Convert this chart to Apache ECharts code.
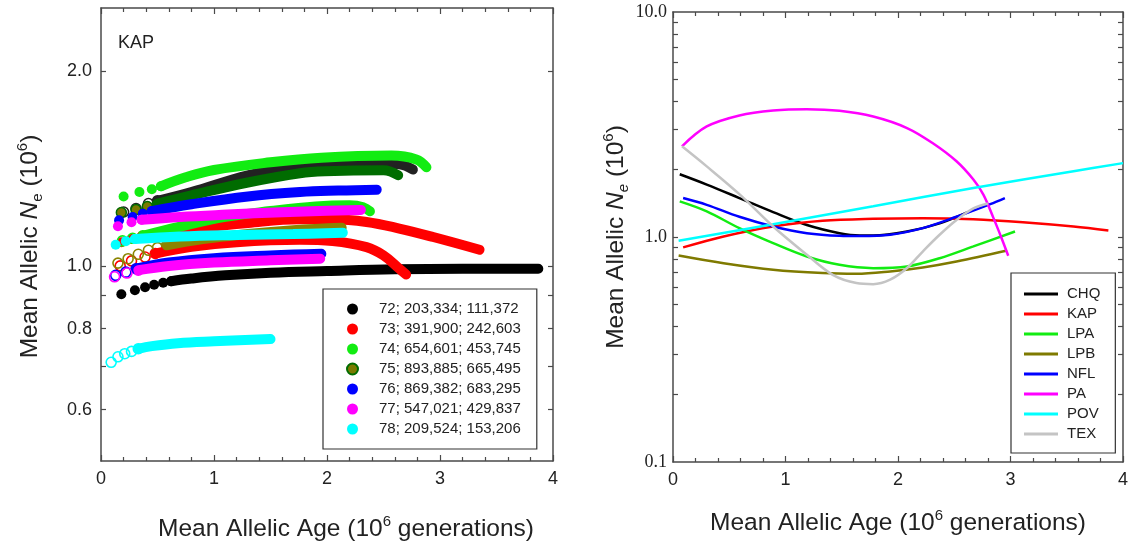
<!DOCTYPE html>
<html lang="en">
<head>
<meta charset="UTF-8">
<title>Mean allelic Ne vs mean allelic age</title>
<script src="https://cdn.jsdelivr.net/npm/echarts@6/dist/echarts.min.js"></script>
<style>
    html, body { margin: 0; padding: 0; background: #fff; }
    #chart { width: 1129px; height: 542px; }
</style>
</head>
<body>
<div id="chart"></div>
<script>
// ---- left panel (KAP): per sample a filled curve and an open-circle curve
var kapNames = ['72; 203,334; 111,372', '73; 391,900; 242,603', '74; 654,601; 453,745',
    '75; 893,885; 665,495', '76; 869,382; 683,295', '77; 547,021; 429,837', '78; 209,524; 153,206'];

// sparse first points (drawn as circles) and the dense part (drawn as a band)
var s72Dots = [[0.18, 0.904], [0.30, 0.917], [0.39, 0.927], [0.47, 0.935], [0.55, 0.942], [0.62, 0.947]];
var s72Band = [[0.62, 0.947], [0.8, 0.956], [1.1, 0.967], [1.5, 0.976], [2.0, 0.982], [2.6, 0.988], [3.2, 0.990], [3.87, 0.990]];
var s72OpenDots = [[0.20, 1.211], [0.31, 1.226], [0.42, 1.248], [0.50, 1.26]];
var s72OpenBand = [[0.50, 1.26], [0.8, 1.30], [1.3, 1.38], [1.76, 1.43], [1.98, 1.437], [2.4, 1.44], [2.64, 1.435], [2.76, 1.408]];

var s73Dots = [[0.18, 1.088], [0.27, 1.10], [0.36, 1.11]];
var s73Band = [[0.36, 1.11], [0.83, 1.142], [1.3, 1.165], [1.76, 1.18], [2.05, 1.18], [2.35, 1.169], [2.64, 1.142], [2.94, 1.108], [3.35, 1.059]];
var s73OpenDots = [[0.17, 1.0], [0.27, 1.018], [0.39, 1.032], [0.48, 1.045]];
var s73OpenBand = [[0.48, 1.045], [0.8, 1.07], [1.2, 1.088], [1.76, 1.097], [2.05, 1.092], [2.35, 1.069], [2.5, 1.038], [2.64, 0.99], [2.70, 0.97]];

var s74Dots = [[0.20, 1.28], [0.34, 1.30], [0.45, 1.313], [0.53, 1.327]];
var s74Band = [[0.53, 1.327], [0.75, 1.37], [1.0, 1.406], [1.5, 1.445], [1.95, 1.469], [2.57, 1.48], [2.79, 1.46], [2.88, 1.42]];
var s74OpenDots = [[0.19, 1.093], [0.28, 1.103], [0.37, 1.113]];
var s74OpenBand = [[0.37, 1.113], [0.7, 1.15], [1.1, 1.19], [1.5, 1.215], [1.9, 1.235], [2.2, 1.24], [2.32, 1.232], [2.38, 1.214]];

var s75Dots = [[0.18, 1.209], [0.31, 1.222], [0.41, 1.235], [0.50, 1.248]];
var s75Band = [[0.50, 1.248], [0.8, 1.285], [1.3, 1.345], [1.76, 1.39], [1.98, 1.40], [2.5, 1.405], [2.63, 1.38]];
var s75OpenDots = [[0.15, 1.01], [0.24, 1.026], [0.33, 1.042], [0.42, 1.057], [0.50, 1.067], [0.58, 1.076]];
var s75OpenBand = [[0.58, 1.076], [0.9, 1.10], [1.3, 1.12], [1.7, 1.135], [2.13, 1.145]];

var s76Dots = [[0.16, 1.176], [0.28, 1.19], [0.37, 1.204], [0.45, 1.215]];
var s76Band = [[0.45, 1.215], [0.8, 1.245], [1.3, 1.28], [1.76, 1.30], [2.1, 1.307], [2.44, 1.311]];
var s76OpenDots = [[0.13, 0.967], [0.22, 0.978], [0.31, 0.99]];
var s76OpenBand = [[0.31, 0.99], [0.6, 1.012], [1.0, 1.028], [1.5, 1.038], [1.95, 1.044]];

var s77Dots = [[0.15, 1.151], [0.27, 1.168], [0.36, 1.178]];
var s77Band = [[0.36, 1.178], [0.7, 1.19], [1.12, 1.20], [1.6, 1.21], [2.0, 1.216], [2.3, 1.22]];
var s77OpenDots = [[0.12, 0.962], [0.23, 0.975], [0.33, 0.985]];
var s77OpenBand = [[0.33, 0.985], [0.6, 1.0], [1.0, 1.012], [1.5, 1.02], [1.94, 1.026]];

var s78Dots = [[0.13, 1.078], [0.22, 1.092], [0.30, 1.10]];
var s78Band = [[0.30, 1.10], [0.7, 1.11], [1.2, 1.116], [1.7, 1.12], [2.14, 1.125]];
var s78OpenDots = [[0.09, 0.71], [0.15, 0.724], [0.21, 0.732], [0.27, 0.738], [0.33, 0.745]];
var s78OpenBand = [[0.33, 0.745], [0.45, 0.752], [0.68, 0.76], [1.0, 0.765], [1.5, 0.771]];

// ---- right panel: one curve per population
var popNames = ['CHQ', 'KAP', 'LPA', 'LPB', 'NFL', 'PA', 'POV', 'TEX'];
var popColors = ['#000000', '#ff0000', '#12ec12', '#7f7a00', '#0000ff', '#ff00ff', '#00ffff', '#c4c4c4'];
var chq = [[0.06, 1.90], [0.30, 1.71], [0.59, 1.49], [0.89, 1.29], [1.19, 1.13], [1.48, 1.04], [1.66, 1.016], [1.78, 1.016], [2.08, 1.058], [2.37, 1.15], [2.62, 1.29]];
var kap = [[0.09, 0.899], [0.45, 1.006], [0.89, 1.114], [1.33, 1.18], [1.78, 1.205], [2.22, 1.213], [2.67, 1.20], [3.11, 1.164], [3.56, 1.114], [3.87, 1.069]];
var lpa = [[0.06, 1.44], [0.30, 1.30], [0.59, 1.095], [0.89, 0.939], [1.19, 0.819], [1.48, 0.752], [1.78, 0.727], [2.08, 0.74], [2.37, 0.805], [2.67, 0.908], [3.04, 1.058]];
var lpb = [[0.05, 0.828], [0.45, 0.765], [0.89, 0.715], [1.33, 0.691], [1.63, 0.686], [1.93, 0.703], [2.22, 0.732], [2.52, 0.778], [2.97, 0.871]];
var nfl = [[0.09, 1.49], [0.30, 1.39], [0.59, 1.23], [0.89, 1.114], [1.19, 1.04], [1.48, 1.012], [1.66, 1.009], [1.93, 1.023], [2.22, 1.095], [2.52, 1.23], [2.82, 1.40], [2.95, 1.49]];
var pa = [[0.08, 2.53], [0.30, 3.10], [0.59, 3.47], [0.89, 3.65], [1.19, 3.70], [1.48, 3.64], [1.78, 3.43], [2.08, 3.05], [2.31, 2.61], [2.52, 2.17], [2.67, 1.80], [2.76, 1.54], [2.85, 1.21], [2.92, 0.99], [2.98, 0.825]];
var pov = [[0.05, 0.962], [0.89, 1.14], [1.78, 1.37], [2.67, 1.65], [3.56, 1.96], [4.0, 2.13]];
var tex = [[0.08, 2.53], [0.30, 2.06], [0.59, 1.55], [0.89, 1.114], [1.19, 0.834], [1.42, 0.679], [1.63, 0.624], [1.78, 0.617], [1.93, 0.646], [2.08, 0.728], [2.22, 0.862], [2.37, 1.023], [2.52, 1.19], [2.67, 1.34], [2.80, 1.41]];

var leftYLabels = [0.6, 0.8, 1.0, 2.0];
var leftYTicks = [0.6, 0.7, 0.8, 0.9, 1.0, 2.0];
var rightYLabels = [0.1, 1.0, 10.0];
var rightYTicks = [0.2, 0.3, 0.4, 0.5, 0.6, 0.7, 0.8, 0.9, 1, 2, 3, 4, 5, 6, 7, 8, 9];

var sans = '"Liberation Sans", Arial, sans-serif';
var serif = '"Liberation Serif", "Times New Roman", serif';
var ink = '#222';
var frame = '#4a4a4a';

var rich = {
    t: { fontSize: 24.5, lineHeight: 30, color: ink, fontFamily: sans },
    it: { fontSize: 24.5, lineHeight: 30, color: ink, fontFamily: sans, fontStyle: 'italic' },
    sup: { fontSize: 15, lineHeight: 15, color: ink, fontFamily: sans, verticalAlign: 'top' },
    sub: { fontSize: 15, lineHeight: 15, color: ink, fontFamily: sans, verticalAlign: 'bottom' },
    subit: { fontSize: 15, lineHeight: 15, color: ink, fontFamily: sans, fontStyle: 'italic', verticalAlign: 'bottom' }
};
var xTitle = '{t|Mean Allelic Age (10}{sup|6}{t| generations)}';

function xAxisCfg(grid, pos, labels, gap, namePad) {
    return {
        type: 'value', gridIndex: grid, position: pos, min: 0, max: 4, interval: 1,
        axisLine: { show: true, onZero: false, lineStyle: { color: frame, width: 1.5 } },
        axisTick: { show: true, inside: true, length: 6, lineStyle: { color: frame, width: 1.2 } },
        minorTick: { show: true, splitNumber: 5, length: 4, lineStyle: { color: frame, width: 1.2 } },
        splitLine: { show: false },
        axisLabel: { show: labels, fontSize: 18, color: ink, fontFamily: sans, margin: 9 },
        name: labels ? xTitle : '', nameLocation: 'middle', nameGap: gap,
        nameTextStyle: { rich: rich, padding: namePad || 0 }
    };
}

function yAxisCfg(grid, pos, min, max, labelVals, tickVals, labels, font, margin, title, gap, namePad) {
    return {
        type: 'log', logBase: 10, gridIndex: grid, position: pos, min: min, max: max,
        axisLine: { show: true, onZero: false, lineStyle: { color: frame, width: 1.5 } },
        axisTick: { show: true, inside: true, length: 5, customValues: tickVals, lineStyle: { color: frame, width: 1.2 } },
        splitLine: { show: false },
        axisLabel: {
            show: labels, customValues: labelVals, fontSize: 18, color: ink, fontFamily: font, margin: margin,
            formatter: function (v) { return Number(v).toFixed(1); }
        },
        name: title, nameLocation: 'middle', nameRotate: 90, nameGap: gap,
        nameTextStyle: { rich: rich, padding: namePad || 0 }
    };
}

var dotColors = ['#000000', '#ff0000', '#12ec12', '#7a7a00', '#0000ff', '#ff00ff', '#00ffff'];
var bandColors = ['#000000', '#ff0000', '#12ec12', '#006c00', '#0000ff', '#ff00ff', '#00ffff'];
var openColors = ['#222222', '#ff0000', '#12ec12', '#8a8400', '#0000ff', '#ff00ff', '#00ffff'];
var leftSets = [
    [s72Dots, s72Band, s72OpenDots, s72OpenBand],
    [s73Dots, s73Band, s73OpenDots, s73OpenBand],
    [s74Dots, s74Band, s74OpenDots, s74OpenBand],
    [s75Dots, s75Band, s75OpenDots, s75OpenBand],
    [s76Dots, s76Band, s76OpenDots, s76OpenBand],
    [s77Dots, s77Band, s77OpenDots, s77OpenBand],
    [s78Dots, s78Band, s78OpenDots, s78OpenBand]
];

var series = [];
leftSets.forEach(function (set, i) {
    var filled = { color: dotColors[i], opacity: 1 };
    if (i === 3) { filled = { color: dotColors[i], borderColor: bandColors[i], borderWidth: 1.5, opacity: 1 }; }
    series.push({
        type: 'line', name: kapNames[i] + ' open band', xAxisIndex: 0, yAxisIndex: 0,
        data: set[3], smooth: 0.4, symbol: 'none', silent: true,
        lineStyle: { color: openColors[i], width: 10, cap: 'round' }
    });
    series.push({
        type: 'scatter', name: kapNames[i] + ' open', xAxisIndex: 0, yAxisIndex: 0,
        data: set[2], symbol: 'circle', symbolSize: 10,
        itemStyle: { color: 'rgba(255,255,255,0)', borderColor: openColors[i], borderWidth: 1.6, opacity: 1 }
    });
    series.push({
        type: 'line', name: kapNames[i] + ' band', xAxisIndex: 0, yAxisIndex: 0,
        data: set[1], smooth: 0.4, symbol: 'none', silent: true,
        lineStyle: { color: bandColors[i], width: 10, cap: 'round' }
    });
    series.push({
        type: 'scatter', name: kapNames[i], xAxisIndex: 0, yAxisIndex: 0,
        data: set[0], symbol: 'circle', symbolSize: 10, itemStyle: filled
    });
});

var popData = [chq, kap, lpa, lpb, nfl, pa, pov, tex];
popNames.forEach(function (n, i) {
    series.push({
        type: 'line', name: n, xAxisIndex: 2, yAxisIndex: 2,
        data: popData[i], smooth: 0.35, symbol: 'none',
        lineStyle: { color: popColors[i], width: 2.5 }, itemStyle: { color: popColors[i] }
    });
});

var myChart = echarts.init(document.getElementById('chart'));
var option = {
    animation: false,
    backgroundColor: '#fff',
    textStyle: { fontFamily: sans },
    title: {
        text: 'KAP', left: 118, top: 34, padding: 0,
        textStyle: { fontSize: 18, fontWeight: 'normal', color: ink, fontFamily: sans }
    },
    grid: [
        { left: 101, top: 8, width: 452, height: 453, outerBoundsMode: 'none', containLabel: false },
        { left: 673, top: 12, width: 450, height: 450, outerBoundsMode: 'none', containLabel: false }
    ],
    xAxis: [
        xAxisCfg(0, 'bottom', true, 53, [0, 0, 0, 38]),
        xAxisCfg(0, 'top', false, 0),
        xAxisCfg(1, 'bottom', true, 46),
        xAxisCfg(1, 'top', false, 0)
    ],
    yAxis: [
        yAxisCfg(0, 'left', 0.5, 2.5, leftYLabels, leftYTicks, true, sans, 9,
            '{t|Mean Allelic }{it|N}{sub|e}{t| (10}{sup|6}{t|)}', 56, [0, 24, 0, 0]),
        yAxisCfg(0, 'right', 0.5, 2.5, leftYLabels, leftYTicks, false, sans, 9, '', 0),
        yAxisCfg(1, 'left', 0.1, 10, rightYLabels, rightYTicks, true, serif, 6,
            '{t|Mean Allelic }{it|N}{subit|e}{t| (10}{sup|6}{t|)}', 38),
        yAxisCfg(1, 'right', 0.1, 10, rightYLabels, rightYTicks, false, serif, 6, '', 0)
    ],
    legend: [
        {
            data: kapNames.map(function (n, i) {
                var st = { color: dotColors[i], opacity: 1 };
                if (i === 3) { st = { color: dotColors[i], borderColor: bandColors[i], borderWidth: 2, opacity: 1 }; }
                return { name: n, icon: 'circle', itemStyle: st };
            }),
            orient: 'vertical', left: 323, top: 289,
            padding: [12, 16, 12, 23], itemGap: 4, itemWidth: 11, itemHeight: 11,
            borderColor: '#333', borderWidth: 1.2, selectedMode: false,
            textStyle: { fontSize: 15, color: ink, fontFamily: sans, lineHeight: 16, padding: [0, 0, 0, 16] }
        },
        {
            data: popNames.map(function (n, i) {
                return { name: n, icon: 'rect', itemStyle: { color: popColors[i] } };
            }),
            orient: 'vertical', left: 1011, top: 273,
            padding: [13, 15, 11, 13], itemGap: 4, itemWidth: 34, itemHeight: 3,
            borderColor: '#333', borderWidth: 1.2, selectedMode: false,
            textStyle: { fontSize: 15, color: ink, fontFamily: sans, lineHeight: 16, padding: [0, 0, 0, 4] }
        }
    ],
    series: series
};
myChart.setOption(option);
</script>
</body>
</html>
